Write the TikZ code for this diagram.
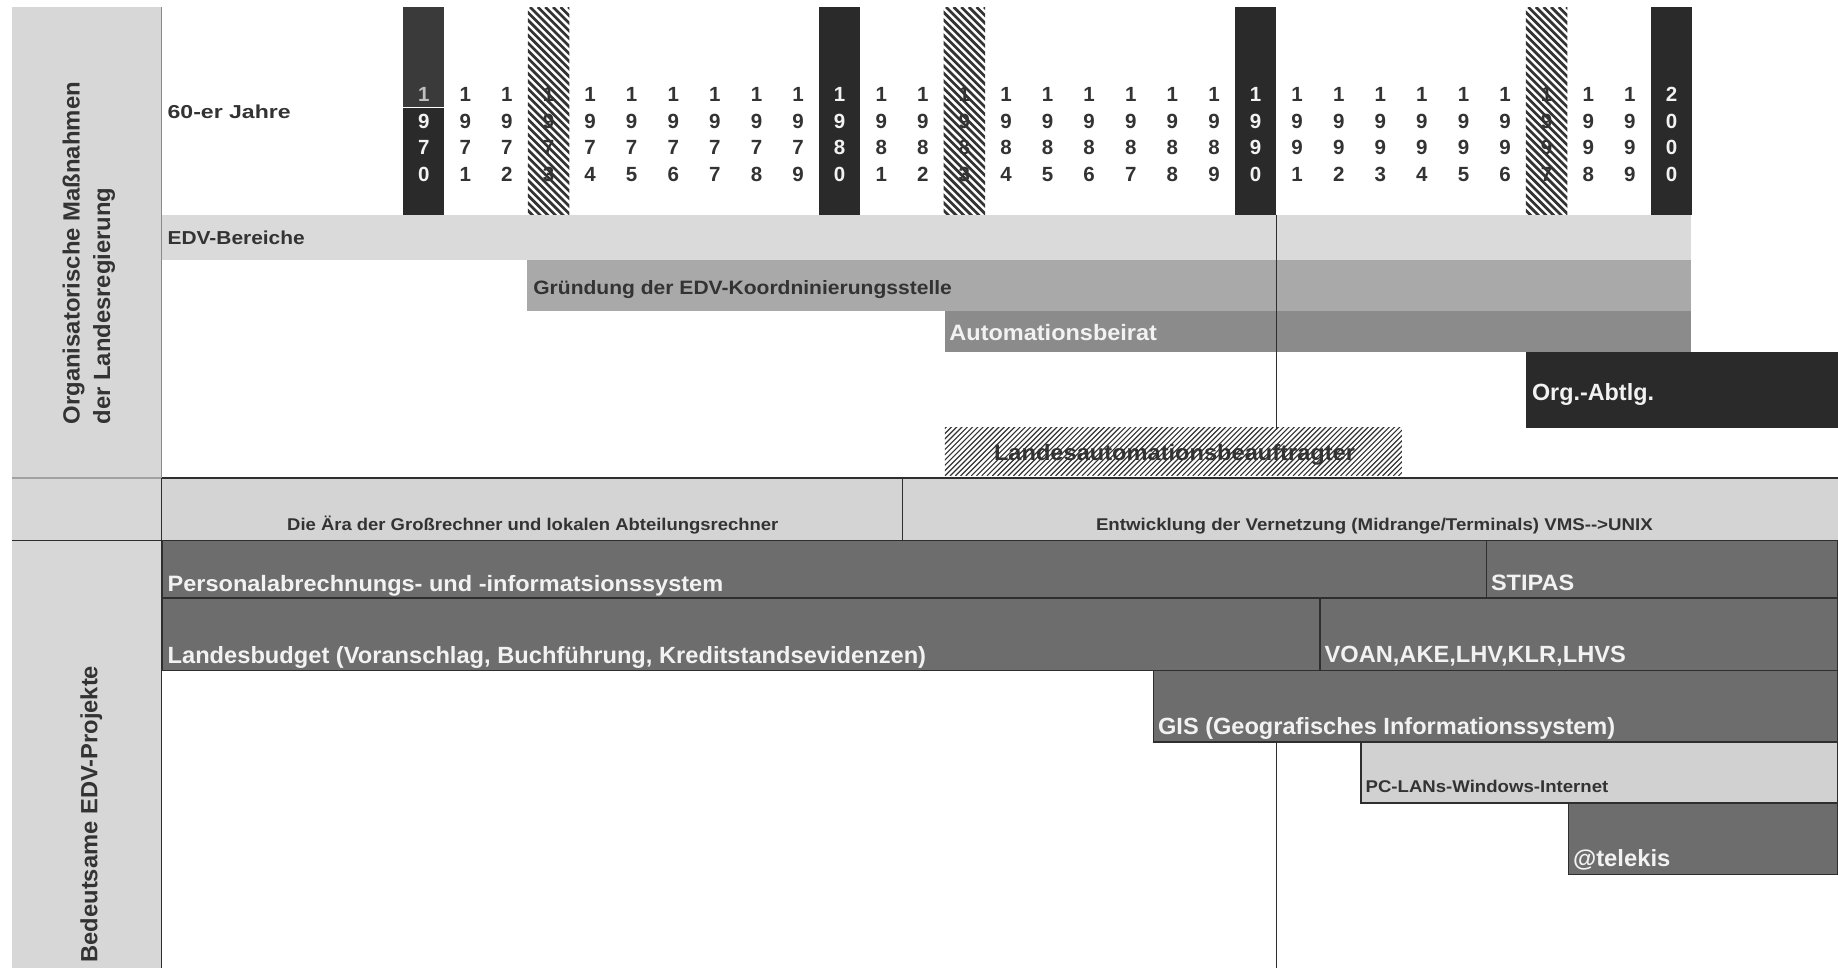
\documentclass[tikz,border=0pt]{standalone}
\usepackage{fontspec}
\setmainfont{Liberation Sans}
\usepackage{graphicx}

\definecolor{panel}{HTML}{D7D7D7}
\definecolor{lightband}{HTML}{DADADA}
\definecolor{midband}{HTML}{A9A9A9}
\definecolor{darkband}{HTML}{8B8B8B}
\definecolor{blackbox}{HTML}{2A2A2A}
\definecolor{blacktop}{HTML}{3A3A3A}
\definecolor{eraband}{HTML}{D4D4D4}
\definecolor{project}{HTML}{6D6D6D}
\definecolor{pcband}{HTML}{D1D1D1}
\definecolor{ink}{HTML}{333333}
\definecolor{paper}{HTML}{F2F2F2}
\definecolor{rule}{HTML}{2E2E2E}
\definecolor{paneledge}{HTML}{8A8A8A}

% bold label squeezed or widened horizontally to a given width
\newcommand\fitw[3]{\resizebox{#1pt}{\height}{\fontsize{#2}{#2}\selectfont\bfseries #3}}
\def\splitdigits#1#2#3#4\relax{\def\da{#1}\def\db{#2}\def\dc{#3}\def\dd{#4}}

\begin{document}
\begin{tikzpicture}[x=1pt,y=-1pt,
  box/.style={anchor=north west, inner sep=0pt, outer sep=0pt},
  lbl/.style={anchor=base west, inner sep=0pt, outer sep=0pt},
  digit/.style={anchor=base, inner sep=0pt, font=\fontsize{17.5}{17.5}\selectfont\bfseries},
  yearbar/.style={anchor=north, inner sep=0pt, minimum width=35pt, minimum height=177pt, fill=blackbox},
  hatchbar/.style={anchor=north, inner sep=0pt, minimum width=35pt, minimum height=177pt},
  projbox/.style={box, fill=project, draw=rule, line width=1.4pt},
  light/.style={text=paper},
  dark/.style={text=ink},
]
\useasboundingbox (0,0) rectangle (1568,826);
\fill[white] (0,0) rectangle (1568,826);

% ---- side panel with the two section titles
\node[box, fill=panel, minimum width=128pt, minimum height=820pt] (side) at (10,6) {};
\draw[paneledge, line width=1.2pt] (side.north east) -- (side.south east);
\draw[paneledge!80, line width=1.5pt] (10,408) -- (138,408);
\node[lbl, rotate=90, dark] (orgA) at (68,362) {\fitw{292}{20}{Organisatorische Maßnahmen}};
\node[lbl, rotate=90, dark] (orgB) at (94,362) {\fitw{202}{20}{der Landesregierung}};
\node[lbl, rotate=90, dark] (proj) at (83,821) {\fitw{253}{20}{Bedeutsame EDV-Projekte}};

% ---- year scale
\foreach \i in {0,10,20,30}
  \node[yearbar] (dbar\i) at ({361.5+35.48*\i},6) {};
\fill[blacktop] (344,6) rectangle (379,91);
\draw[white, line width=1pt] (344,91.5) -- (379,91.5);
\node[lbl, dark] (sixties) at (143,101.5) {\fitw{105}{16}{60-er Jahre}};
\foreach \i in {0,...,30}{
  \pgfmathsetmacro\xx{361.5+35.48*\i}
  \pgfmathtruncatemacro\yr{1970+\i}
  \pgfmathtruncatemacro\isdark{mod(\i,10)==0 ? 1 : 0}
  \expandafter\splitdigits\yr\relax
  \ifnum\isdark=1 \def\dcol{paper}\else\def\dcol{ink}\fi
  \ifnum\i=0 \def\tcol{lightgray}\else\let\tcol\dcol\fi
  \node[digit, text=\tcol] (y\i a) at (\xx,86.5) {\da};
  \node[digit, text=\dcol] (y\i b) at (\xx,109.5) {\db};
  \node[digit, text=\dcol] (y\i c) at (\xx,131.5) {\dc};
  \node[digit, text=\dcol] (y\i d) at (\xx,154.5) {\dd};
}
% hatched years: diagonal strokes running down to the right
\foreach \i in {3,13,27}{
  \node[hatchbar] (hbar\i) at ({361.5+35.48*\i},6) {};
  \begin{scope}
    \clip (hbar\i.north west) rectangle (hbar\i.south east);
    \foreach \k in {-180,-173.5,...,40}
      \draw[ink, line width=2.3pt] ([xshift=\k pt]hbar\i.north west) -- ++(190,190);
  \end{scope}
}

% ---- organisational measures
\node[box, fill=lightband, minimum width=1305pt, minimum height=39pt] (edv) at (138,183) {};
\node[box, fill=midband, minimum width=993pt, minimum height=43pt] (koord) at (450,222) {};
\node[box, fill=darkband, minimum width=637pt, minimum height=35pt] (beirat) at (806,265) {};
\node[box, fill=blackbox, minimum width=266pt, minimum height=65pt] (org) at (1302,300) {};
\node[box, minimum width=390pt, minimum height=41pt] (lab) at (806,365) {};
\node[lbl, dark] (edvT) at (143,209) {\fitw{117}{16}{EDV-Bereiche}};
\node[lbl, dark] (koordT) at (455,251) {\fitw{357}{16.5}{Gründung der EDV-Koordninierungsstelle}};
\node[lbl, light] (beiratT) at (810,290.5) {\fitw{177}{19}{Automationsbeirat}};
\node[lbl, light] (orgT) at (1307,342) {\fitw{104}{20}{Org.-Abtlg.}};
\node[lbl, dark] (labT) at (848,392.5) {\fitw{308}{19}{Landesautomationsbeauftragter}};
% fine diagonal strokes running up to the right
\begin{scope}
  \clip (lab.north west) rectangle (lab.south east);
  \foreach \k in {-45,-40.5,...,395}
    \draw[ink, line width=1pt] ([xshift=\k pt]lab.south west) -- ++(45,-45);
\end{scope}

% 1990 marker line
\coordinate (m1) at (1089,183);
\coordinate (m2) at (1089,366);
\draw[rule, line width=1.3pt] (m1) -- (m2);

% ---- eras
\node[box, fill=eraband, minimum width=632pt, minimum height=53pt] (era1) at (138,408) {};
\node[box, fill=eraband, minimum width=798pt, minimum height=53pt] (era2) at (770,408) {};
\draw[rule, line width=1.4pt] (138,408) -- (1568,408);
\draw[rule, line width=1.4pt] (10,461) -- (1568,461);
\draw[rule, line width=1.4pt] (era1.north east) -- (era1.south east);
\draw[rule, line width=1.2pt] (side.north east |- era1.north) -- (side.south east);
\node[lbl, dark] (era1T) at (245,452.5) {\fitw{419}{14.5}{Die Ära der Großrechner und lokalen Abteilungsrechner}};
\node[lbl, dark] (era2T) at (935,452.5) {\fitw{475}{14.5}{Entwicklung der Vernetzung (Midrange/Terminals) VMS-{}->UNIX}};

% ---- projects
\node[projbox, minimum width=1130pt, minimum height=49pt] (pers) at (138,461) {};
\node[projbox, minimum width=300pt, minimum height=49pt] (stipas) at (1268,461) {};
\node[projbox, minimum width=988pt, minimum height=62pt] (budget) at (138,510) {};
\node[projbox, minimum width=442pt, minimum height=62pt] (voan) at (1126,510) {};
\node[projbox, minimum width=584pt, minimum height=61pt] (gis) at (984,572) {};
\node[box, fill=pcband, draw=rule, line width=1.4pt, minimum width=407pt, minimum height=52pt] (pclan) at (1161,633) {};
\node[projbox, minimum width=230pt, minimum height=61pt] (telekis) at (1338,685) {};

\node[lbl, light] (persT) at (143,505) {\fitw{474}{19}{Personalabrechnungs- und -informatsionssystem}};
\node[lbl, light] (stipasT) at (1272,504) {\fitw{71}{19}{STIPAS}};
\node[lbl, light] (budgetT) at (143,566) {\fitw{647}{20}{Landesbudget (Voranschlag, Buchführung, Kreditstandsevidenzen)}};
\node[lbl, light] (voanT) at (1130,565) {\fitw{257}{20}{VOAN,AKE,LHV,KLR,LHVS}};
\node[lbl, light] (gisT) at (988,627) {\fitw{390}{20}{GIS (Geografisches Informationssystem)}};
\node[lbl, dark] (pclanT) at (1165,676.5) {\fitw{207}{14.5}{PC-LANs-Windows-Internet}};
\node[lbl, light] (telekisT) at (1342,739) {\fitw{83}{20}{@telekis}};

% 1990 marker line, lower part
\coordinate (m3) at (1089,633);
\coordinate (m4) at (1089,826);
\draw[rule, line width=1.3pt] (m3) -- (m4);
\end{tikzpicture}
\end{document}
